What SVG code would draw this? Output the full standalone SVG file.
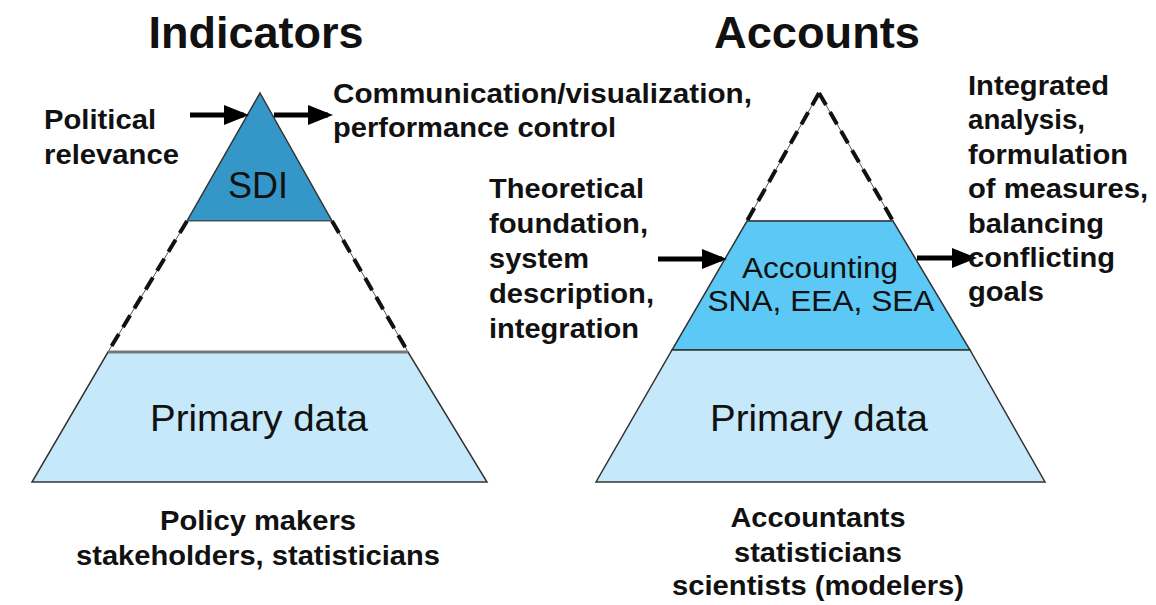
<svg xmlns="http://www.w3.org/2000/svg" width="1156" height="605" viewBox="0 0 1156 605">
<defs>
<style>
.t{font-family:"Liberation Sans",Arial,sans-serif;font-weight:bold;font-size:28px;fill:#111}
.h{font-family:"Liberation Sans",Arial,sans-serif;font-weight:bold;font-size:45px;fill:#111;text-anchor:middle}
.c{font-family:"Liberation Sans",Arial,sans-serif;font-size:37px;fill:#111;text-anchor:middle}
.edge{stroke:#333;stroke-width:1.5}
.dash{stroke:#111;stroke-width:4;stroke-dasharray:14 8;fill:none}
.arr{stroke:#000;stroke-width:5;fill:none;marker-end:url(#ah)}
</style>
<marker id="ah" markerWidth="5" markerHeight="4" refX="4" refY="2" orient="auto" markerUnits="strokeWidth">
<path d="M0,0 L5,2 L0,4 Z" fill="#000"/>
</marker>
</defs>
<rect width="1156" height="605" fill="#fff"/>
<text class="h" x="256" y="48" textLength="215" lengthAdjust="spacingAndGlyphs">Indicators</text>
<text class="h" x="817" y="48" textLength="206" lengthAdjust="spacingAndGlyphs">Accounts</text>

<g id="left-pyramid">
<g id="sdi"><polygon points="260,93 332,221 187,221" fill="#3596C8" class="edge"/><text class="c" x="258" y="198" textLength="60" lengthAdjust="spacingAndGlyphs">SDI</text></g>
<g id="left-middle"><polygon points="187,221 332,221 408,352 108,352" fill="#fff" stroke="#555" stroke-width="1"/>
<line class="dash" x1="187" y1="221" x2="108" y2="352"/><line class="dash" x1="332" y1="221" x2="408" y2="352"/></g>
<g id="left-primary"><polygon points="108,352 408,352 487,482 32,482" fill="#C6E8FB" class="edge"/><line x1="108" y1="352" x2="408" y2="352" stroke="#777" stroke-width="3"/><text class="c" x="259" y="431" textLength="218" lengthAdjust="spacingAndGlyphs">Primary data</text></g>
</g>

<g id="right-pyramid">
<g id="right-top"><polygon points="819,93 893,221 747,221" fill="#fff" stroke="#555" stroke-width="1"/>
<line class="dash" x1="819" y1="93" x2="747" y2="221"/><line class="dash" x1="819" y1="93" x2="893" y2="221"/></g>
<g id="accounting"><polygon points="747,221 893,221 970,350 672,350" fill="#5BC8F5" class="edge"/><text class="c" x="820" y="278" style="font-size:29px" textLength="156" lengthAdjust="spacingAndGlyphs">Accounting</text><text class="c" x="821" y="311" style="font-size:29px" textLength="227" lengthAdjust="spacingAndGlyphs">SNA, EEA, SEA</text></g>
<g id="right-primary"><polygon points="672,350 970,350 1045,482 596,482" fill="#C6E8FB" class="edge"/><text class="c" x="819" y="431" textLength="218" lengthAdjust="spacingAndGlyphs">Primary data</text></g>
</g>

<g id="connectors">
<line class="arr" x1="190" y1="115" x2="244" y2="115"/>
<line class="arr" x1="274" y1="115" x2="328" y2="115"/>
<line class="arr" x1="658" y1="259" x2="722" y2="259"/>
<line class="arr" x1="917" y1="258" x2="972" y2="258"/>
</g>

<g id="labels">
<text class="t" x="44" y="129" textLength="112" lengthAdjust="spacingAndGlyphs">Political</text>
<text class="t" x="44" y="164" textLength="135" lengthAdjust="spacingAndGlyphs">relevance</text>
<text class="t" x="333" y="103" textLength="419" lengthAdjust="spacingAndGlyphs">Communication/visualization,</text>
<text class="t" x="333" y="137" textLength="283" lengthAdjust="spacingAndGlyphs">performance control</text>
<text class="t" x="489" y="198" textLength="155" lengthAdjust="spacingAndGlyphs">Theoretical</text>
<text class="t" x="489" y="233" textLength="159" lengthAdjust="spacingAndGlyphs">foundation,</text>
<text class="t" x="489" y="268" textLength="100" lengthAdjust="spacingAndGlyphs">system</text>
<text class="t" x="489" y="303" textLength="165" lengthAdjust="spacingAndGlyphs">description,</text>
<text class="t" x="489" y="338" textLength="150" lengthAdjust="spacingAndGlyphs">integration</text>
<text class="t" x="968" y="95" textLength="141" lengthAdjust="spacingAndGlyphs">Integrated</text>
<text class="t" x="968" y="129" textLength="117" lengthAdjust="spacingAndGlyphs">analysis,</text>
<text class="t" x="968" y="164" textLength="160" lengthAdjust="spacingAndGlyphs">formulation</text>
<text class="t" x="968" y="198" textLength="180" lengthAdjust="spacingAndGlyphs">of measures,</text>
<text class="t" x="968" y="233" textLength="136" lengthAdjust="spacingAndGlyphs">balancing</text>
<text class="t" x="968" y="267" textLength="147" lengthAdjust="spacingAndGlyphs">conflicting</text>
<text class="t" x="968" y="301" textLength="76" lengthAdjust="spacingAndGlyphs">goals</text>
<text class="t" x="258" y="530" text-anchor="middle" textLength="196" lengthAdjust="spacingAndGlyphs">Policy makers</text>
<text class="t" x="258" y="565" text-anchor="middle" textLength="364" lengthAdjust="spacingAndGlyphs">stakeholders, statisticians</text>
<text class="t" x="818" y="527" text-anchor="middle" textLength="175" lengthAdjust="spacingAndGlyphs">Accountants</text>
<text class="t" x="818" y="562" text-anchor="middle" textLength="168" lengthAdjust="spacingAndGlyphs">statisticians</text>
<text class="t" x="818" y="595" text-anchor="middle" textLength="292" lengthAdjust="spacingAndGlyphs">scientists (modelers)</text>
</g>
</svg>
